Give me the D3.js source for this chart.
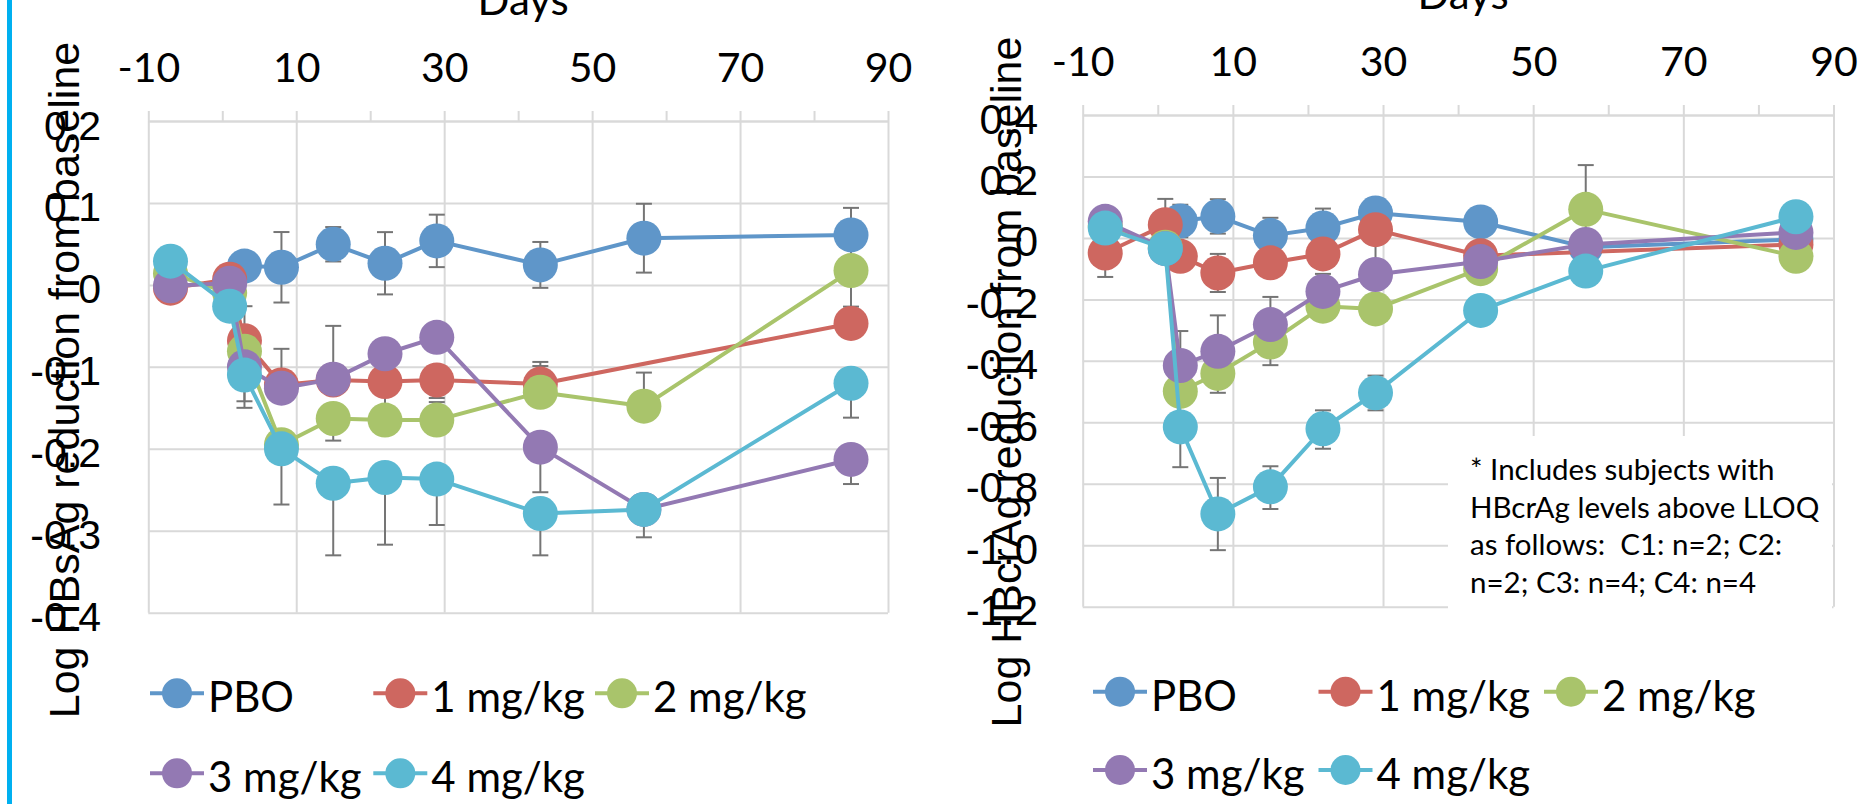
<!DOCTYPE html>
<html>
<head>
<meta charset="utf-8">
<script src="https://cdn.jsdelivr.net/npm/d3@7"></script>
<style>
  body { margin: 0; background: #fff; }
  svg { display: block; }
</style>
</head>
<body>
<svg id="chart"></svg>
<script>
// study days shared by both panels
var days = [-7, 1, 3, 8, 15, 22, 29, 43, 57, 85]
var seriesNames = ["PBO", "1 mg/kg", "2 mg/kg", "3 mg/kg", "4 mg/kg"]
var seriesColors = ["#5f96c9", "#ce6760", "#a9c46b", "#9379b3", "#5bb9d2"]

var xTicks = [-10, 0, 10, 20, 30, 40, 50, 60, 70, 80, 90]
var xLabelTicks = [-10, 10, 30, 50, 70, 90]

// HBsAg panel (left)
var sTicks = [0.2, 0.1, 0, -0.1, -0.2, -0.3, -0.4]
var sPbo = [null, null, 0.023, 0.0215, 0.0496, 0.0264, 0.0537, 0.0244, 0.057, 0.061]
var s1 = [-0.004, 0.007, -0.068, -0.122, -0.116, -0.118, -0.116, -0.121, null, -0.047]
var s2 = [0.014, -0.01, -0.081, -0.195, -0.163, -0.165, -0.165, -0.131, -0.148, 0.0175]
var s3 = [-0.001, 0.002, -0.1, -0.126, -0.115, -0.084, -0.064, -0.198, -0.274, -0.213]
var s4 = [0.029, -0.026, -0.11, -0.2, -0.242, -0.235, -0.237, -0.279, -0.274, -0.12]
// error bars as [plus, minus]
var sPboErr = [null, null, null, [0.043, 0.043], [0.021, 0.021], [0.038, 0.038], [0.032, 0.032], [0.028, 0.028], [0.042, 0.042], [0.033, 0.033]]
var s1Err = [null, null, [0.042, 0], [0.044, 0], [0.066, 0], [0, 0.03], [0, 0.022], [0.027, 0], null, null]
var s2Err = [null, null, [0, 0.061], null, [0, 0.027], null, [0.022, 0], [0.032, 0], [0.041, 0], [0, 0.044]]
var s3Err = [null, null, null, null, null, null, null, [0, 0.055], null, [0, 0.03]]
var s4Err = [null, null, [0, 0.04], [0, 0.068], [0, 0.088], [0, 0.082], [0, 0.056], [0, 0.051], [0, 0.034], [0, 0.042]]

// HBcrAg panel (right)
var cTicks = [0.4, 0.2, 0, -0.2, -0.4, -0.6, -0.8, -1.0, -1.2]
var cPbo = [null, null, 0.055, 0.070, 0.0075, 0.0325, 0.081, 0.052, -0.030, -0.005]
var c1 = [-0.049, 0.043, -0.06, -0.114, -0.081, -0.052, 0.027, -0.058, null, -0.021]
var c2 = [0.04, -0.03, -0.499, -0.441, -0.339, -0.222, -0.231, -0.1, 0.093, -0.06]
var c3 = [0.054, -0.035, -0.415, -0.369, -0.282, -0.174, -0.119, -0.077, -0.021, 0.018]
var c4 = [0.032, -0.035, -0.615, -0.898, -0.81, -0.621, -0.504, -0.236, -0.108, 0.069]
var cPboErr = [null, null, [0.053, 0.053], [0.056, 0.056], [0.058, 0.058], [0.063, 0.063], [0.047, 0.047], null, null, null]
var c1Err = [[0.078, 0.078], [0.084, 0.084], null, [0.062, 0.062], null, null, [0, 0.1], null, null, null]
var c2Err = [null, null, null, [0.063, 0.063], [0.075, 0.075], null, null, null, [0.144, 0.144], null]
var c3Err = [null, null, [0.112, 0.112], [0.117, 0.117], [0.09, 0.09], [0.057, 0.057], null, null, null, null]
var c4Err = [null, null, [0.131, 0.131], [0.117, 0.118], [0.067, 0.072], [0.06, 0.065], [0.056, 0.057], null, null, null]

var noteLines = ["* Includes subjects with", "HBcrAg levels above LLOQ", "as follows:  C1: n=2; C2:", "n=2; C3: n=4; C4: n=4"]

var width = 1860
var height = 804
var gridColor = "#d9d9d9"
var errColor = "#757575"
var narrowFont = "Lato, 'Open Sans', sans-serif"
var arialFont = "'Liberation Sans', Arial, sans-serif"

var svg = d3.select("#chart")
    .attr("width", width)
    .attr("height", height)

svg.append("rect")
    .attr("width", width)
    .attr("height", height)
    .attr("fill", "#fff")

// cyan frame line at the far left
svg.append("rect")
    .attr("x", 7)
    .attr("y", 0)
    .attr("width", 5)
    .attr("height", height)
    .attr("fill", "#00b0f0")

function drawPanel(cfg) {
    var x = d3.scaleLinear().domain([-10, 90]).range([cfg.left, cfg.right])
    var y = d3.scaleLinear().domain([cfg.ticks[0], cfg.ticks[cfg.ticks.length - 1]]).range([cfg.top, cfg.bottom])
    var g = svg.append("g")

    // horizontal grid
    g.append("g")
        .attr("transform", "translate(" + cfg.left + ",0)")
        .call(d3.axisLeft(y).tickValues(cfg.ticks).tickSize(-(cfg.right - cfg.left)).tickFormat(""))
        .call(function (a) { a.select(".domain").remove() })
        .selectAll("line")
        .attr("stroke", gridColor)
        .attr("stroke-width", 2)

    // vertical grid
    g.append("g")
        .attr("transform", "translate(0," + cfg.bottom + ")")
        .call(d3.axisBottom(x).tickValues(xLabelTicks).tickSize(-(cfg.bottom - cfg.top)).tickFormat(""))
        .call(function (a) { a.select(".domain").remove() })
        .selectAll("line")
        .attr("stroke", gridColor)
        .attr("stroke-width", 2)

    // top x axis
    var xAxis = g.append("g")
        .attr("transform", "translate(0," + cfg.top + ")")
        .call(d3.axisTop(x)
            .tickValues(xTicks)
            .tickSize(10)
            .tickSizeOuter(0)
            .tickPadding(29)
            .tickFormat(function (d) { return xLabelTicks.indexOf(d) >= 0 ? String(d) : "" }))
    xAxis.select(".domain").attr("stroke", gridColor).attr("stroke-width", 2)
    xAxis.selectAll("line").attr("stroke", gridColor).attr("stroke-width", 2)
    xAxis.selectAll("text")
        .attr("dy", 0)
        .attr("fill", "#000")
        .style("font", "41px " + narrowFont)

    // left y labels
    var yAxis = g.append("g")
        .attr("transform", "translate(" + cfg.left + ",0)")
        .call(d3.axisLeft(y)
            .tickValues(cfg.ticks)
            .tickSize(0)
            .tickPadding(cfg.left - cfg.labelX)
            .tickFormat(function (d) { return d === 0 ? "0" : d.toFixed(1) }))
    yAxis.select(".domain").remove()
    yAxis.selectAll("text")
        .attr("dy", 18)
        .attr("fill", "#000")
        .style("font", cfg.yFont + "px " + arialFont)

    svg.append("text")
        .attr("x", (cfg.left + cfg.right) / 2 + 5)
        .attr("y", cfg.top - 106)
        .attr("text-anchor", "middle")
        .style("font", "42px " + narrowFont)
        .text("Days")

    svg.append("text")
        .attr("transform", "translate(" + cfg.titleX + "," + cfg.titleY + ") rotate(-90)")
        .attr("text-anchor", "middle")
        .style("font", "43px " + arialFont)
        .text(cfg.title)

    if (cfg.note) {
        svg.append("rect")
            .attr("x", 1448)
            .attr("y", 436)
            .attr("width", 384)
            .attr("height", 190)
            .attr("fill", "#fff")
        svg.append("g").selectAll("text")
            .data(noteLines)
            .enter()
            .append("text")
            .attr("x", 1470)
            .attr("y", function (d, i) { return 480 + i * 37.5 })
            .style("font", "29.5px " + narrowFont)
            .style("white-space", "pre")
            .text(function (d) { return d })
    }

    // error bars below everything
    var errLayer = g.append("g")
    cfg.series.forEach(function (vals, si) {
        cfg.errors[si].forEach(function (e, i) {
            if (!e || vals[i] === null) return
            var cx = x(days[i])
            var top = y(vals[i] + e[0])
            var bot = y(vals[i] - e[1])
            errLayer.append("line")
                .attr("x1", cx).attr("x2", cx)
                .attr("y1", top).attr("y2", bot)
                .attr("stroke", errColor).attr("stroke-width", 2)
            if (e[0] > 0) {
                errLayer.append("line")
                    .attr("x1", cx - 8).attr("x2", cx + 8)
                    .attr("y1", top).attr("y2", top)
                    .attr("stroke", errColor).attr("stroke-width", 2)
            }
            if (e[1] > 0) {
                errLayer.append("line")
                    .attr("x1", cx - 8).attr("x2", cx + 8)
                    .attr("y1", bot).attr("y2", bot)
                    .attr("stroke", errColor).attr("stroke-width", 2)
            }
        })
    })

    var line = d3.line()
        .defined(function (d) { return d.v !== null })
        .x(function (d) { return x(d.day) })
        .y(function (d) { return y(d.v) })

    cfg.series.forEach(function (vals, si) {
        var pts = days.map(function (d, i) { return { day: d, v: vals[i] } })
        var kept = pts.filter(function (p) { return p.v !== null })
        g.append("path")
            .attr("d", line(kept))
            .attr("fill", "none")
            .attr("stroke", seriesColors[si])
            .attr("stroke-width", 4)
            .attr("stroke-linejoin", "round")
        g.append("g").selectAll("circle")
            .data(kept)
            .enter()
            .append("circle")
            .attr("cx", function (d) { return x(d.day) })
            .attr("cy", function (d) { return y(d.v) })
            .attr("r", 17.5)
            .attr("fill", seriesColors[si])
    })

    // legend, two rows
    var legend = svg.append("g")
    seriesNames.forEach(function (name, i) {
        var row = i < 3 ? 0 : 1
        var col = i < 3 ? i : i - 3
        var lx = cfg.legendCols[col]
        var ly = cfg.legendRows[row]
        legend.append("line")
            .attr("x1", lx).attr("x2", lx + 54)
            .attr("y1", ly).attr("y2", ly)
            .attr("stroke", seriesColors[i])
            .attr("stroke-width", 4)
        legend.append("circle")
            .attr("cx", lx + 27).attr("cy", ly)
            .attr("r", 15)
            .attr("fill", seriesColors[i])
        legend.append("text")
            .attr("x", lx + 58)
            .attr("y", ly + 19)
            .style("font", "42px " + narrowFont)
            .text(name)
    })
}

drawPanel({
    left: 148.3, right: 888, top: 121, bottom: 612.7,
    ticks: sTicks, labelX: 101, yFont: 41,
    title: "Log HBsAg reduction from baseline", titleX: 79, titleY: 380,
    series: [sPbo, s1, s2, s3, s4],
    errors: [sPboErr, s1Err, s2Err, s3Err, s4Err],
    legendCols: [150, 373.3, 595], legendRows: [693.3, 773.3],
    note: false
})

drawPanel({
    left: 1082.7, right: 1833.5, top: 115, bottom: 606.7,
    ticks: cTicks, labelX: 1038, yFont: 42,
    title: "Log HBcrAg reduction from baseline", titleX: 1021, titleY: 382,
    series: [cPbo, c1, c2, c3, c4],
    errors: [cPboErr, c1Err, c2Err, c3Err, c4Err],
    legendCols: [1093, 1318.5, 1544], legendRows: [691.7, 770],
    note: true
})
</script>
</body>
</html>
